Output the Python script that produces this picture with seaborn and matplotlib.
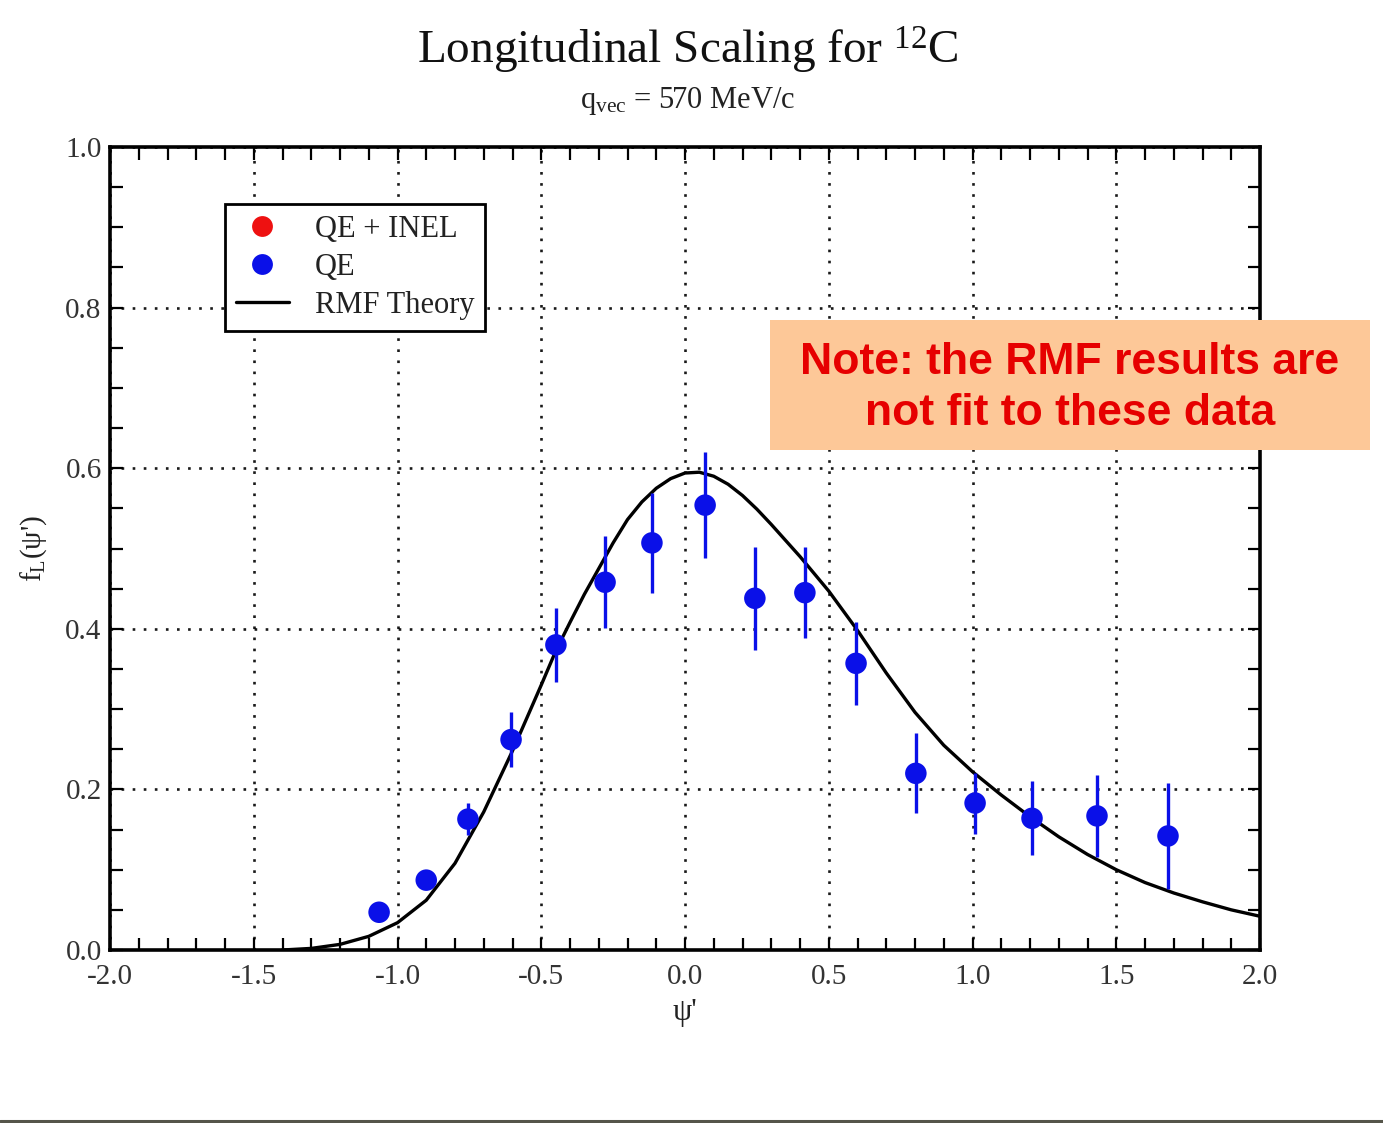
import matplotlib
matplotlib.use("Agg")
import matplotlib.pyplot as plt
from matplotlib.lines import Line2D
from matplotlib.ticker import MultipleLocator, FormatStrFormatter
import seaborn as sns
import pandas as pd

# ---------------- data ----------------
qe_psi = [-1.064, -0.90, -0.755, -0.605, -0.449, -0.278, -0.115, 0.070,
          0.243, 0.417, 0.595, 0.803, 1.009, 1.207, 1.433, 1.680]
qe_f = [0.047, 0.087, 0.163, 0.262, 0.380, 0.458, 0.507, 0.554,
        0.438, 0.445, 0.357, 0.220, 0.183, 0.164, 0.167, 0.142]
qe_err = [0.008, 0.010, 0.020, 0.034, 0.046, 0.057, 0.062, 0.066,
          0.064, 0.057, 0.052, 0.050, 0.038, 0.046, 0.051, 0.066]

rmf_psi = [-1.40, -1.30, -1.20, -1.10, -1.00, -0.90, -0.80, -0.70, -0.60,
           -0.50, -0.45, -0.40, -0.35, -0.30, -0.25, -0.20, -0.15, -0.10,
           -0.05, 0.00, 0.05, 0.10, 0.15, 0.20, 0.25, 0.30, 0.40, 0.50,
           0.60, 0.70, 0.80, 0.90, 1.00, 1.10, 1.20, 1.30, 1.40, 1.50,
           1.60, 1.70, 1.80, 1.90, 2.00]
rmf_f = [0.000, 0.002, 0.007, 0.017, 0.034, 0.062, 0.108, 0.172, 0.248,
         0.330, 0.372, 0.408, 0.443, 0.475, 0.507, 0.536, 0.558, 0.575,
         0.587, 0.594, 0.595, 0.590, 0.580, 0.566, 0.549, 0.530, 0.490,
         0.447, 0.398, 0.345, 0.296, 0.255, 0.222, 0.193, 0.166, 0.141,
         0.119, 0.100, 0.084, 0.071, 0.060, 0.050, 0.042]

legend_labels = ["QE + INEL", "QE", "RMF Theory"]
title_text = "Longitudinal Scaling for $^{12}$C"
subtitle_text = "q$_{\\mathrm{vec}}$ = 570 MeV/c"
note_text = "Note: the RMF results are\nnot fit to these data"

# ---------------- style ----------------
sns.set_theme(style="white")
plt.rcParams["font.family"] = ["Liberation Serif", "DejaVu Serif"]
plt.rcParams["mathtext.fontset"] = "custom"
plt.rcParams["mathtext.rm"] = "Liberation Serif"
plt.rcParams["mathtext.it"] = "Liberation Serif:italic"

fig = plt.figure(figsize=(13.83, 11.23), dpi=100)
ax = fig.add_axes([110 / 1383, 1 - 950 / 1123, 1150 / 1383, 803 / 1123])

blue = "#0a10e8"

df_rmf = pd.DataFrame({"psi": rmf_psi, "f": rmf_f})
df_qe = pd.DataFrame({"psi": qe_psi, "f": qe_f, "err": qe_err})

sns.lineplot(data=df_rmf, x="psi", y="f", ax=ax, color="black", lw=2.4,
             zorder=3, legend=False)
ax.errorbar(df_qe["psi"], df_qe["f"], yerr=df_qe["err"], fmt="none",
            ecolor=blue, elinewidth=2.4, capsize=0, zorder=4)
sns.scatterplot(data=df_qe, x="psi", y="f", ax=ax, color=blue, s=240,
                edgecolor="none", zorder=5, legend=False)

ax.set_xlim(-2.0, 2.0)
ax.set_ylim(0.0, 1.0)
ax.xaxis.set_major_locator(MultipleLocator(0.5))
ax.xaxis.set_minor_locator(MultipleLocator(0.1))
ax.yaxis.set_major_locator(MultipleLocator(0.2))
ax.yaxis.set_minor_locator(MultipleLocator(0.05))
ax.xaxis.set_major_formatter(FormatStrFormatter("%.1f"))
ax.yaxis.set_major_formatter(FormatStrFormatter("%.1f"))

ax.tick_params(which="both", direction="in", top=True, right=True,
               bottom=True, left=True, width=1.6, color="black",
               labelsize=21, labelcolor="#333333")
ax.tick_params(which="major", length=9)
ax.tick_params(axis="y", which="major", pad=6)
ax.tick_params(axis="x", which="major", pad=10)
ax.tick_params(which="minor", length=9)

ax.grid(True, which="major", color="black", linestyle=(0, (1, 3.2)),
        linewidth=1.9, alpha=0.9)
for sp in ax.spines.values():
    sp.set_linewidth(2.6)
    sp.set_color("black")
    sp.set_visible(True)

ax.set_xlabel("\u03c8'", fontsize=22, labelpad=6, color="#222222")
ax.set_ylabel("f$_{\\mathrm{L}}$(\u03c8')", fontsize=21, labelpad=12,
              color="#222222")

handles = [
    Line2D([], [], marker="o", color="none", markerfacecolor="#ee1111",
           markeredgecolor="none", markersize=15),
    Line2D([], [], marker="o", color="none", markerfacecolor=blue,
           markeredgecolor="none", markersize=15),
    Line2D([], [], color="black", lw=2.4),
]
leg = ax.legend(handles, legend_labels, loc="upper left",
                bbox_to_anchor=((225 - 110) / 1150, (950 - 204) / 803),
                fontsize=22, frameon=True, fancybox=False, framealpha=1,
                edgecolor="black", handlelength=1.75, handletextpad=0.85,
                borderpad=0.35, labelspacing=0.3, borderaxespad=0)
leg.get_frame().set_linewidth(2.0)
leg.set_zorder(6)
for t in leg.get_texts():
    t.set_color("#222222")

fig.text(688 / 1383, 1 - 50 / 1123, title_text, ha="center", va="center",
         fontsize=34, color="#111111")
fig.text(688 / 1383, 1 - 101 / 1123, subtitle_text, ha="center",
         va="center", fontsize=22, color="#222222")

# note box
note_bg = plt.Rectangle((770 / 1383, 1 - 450 / 1123), 600 / 1383,
                        130 / 1123, transform=fig.transFigure,
                        facecolor="#fdc898", edgecolor="none", zorder=10)
fig.add_artist(note_bg)
fig.text(1070 / 1383, 1 - 388 / 1123, note_text, ha="center", va="center",
         fontsize=32, fontweight="bold", color="#e60000",
         family=["Liberation Sans", "DejaVu Sans"], linespacing=1.3,
         zorder=11)

# slide bottom border
fig.add_artist(Line2D([0, 1], [1 - 1121 / 1123] * 2,
                      transform=fig.transFigure, color="#55554a", lw=2.2))

fig.savefig("out.png", dpi=100)
